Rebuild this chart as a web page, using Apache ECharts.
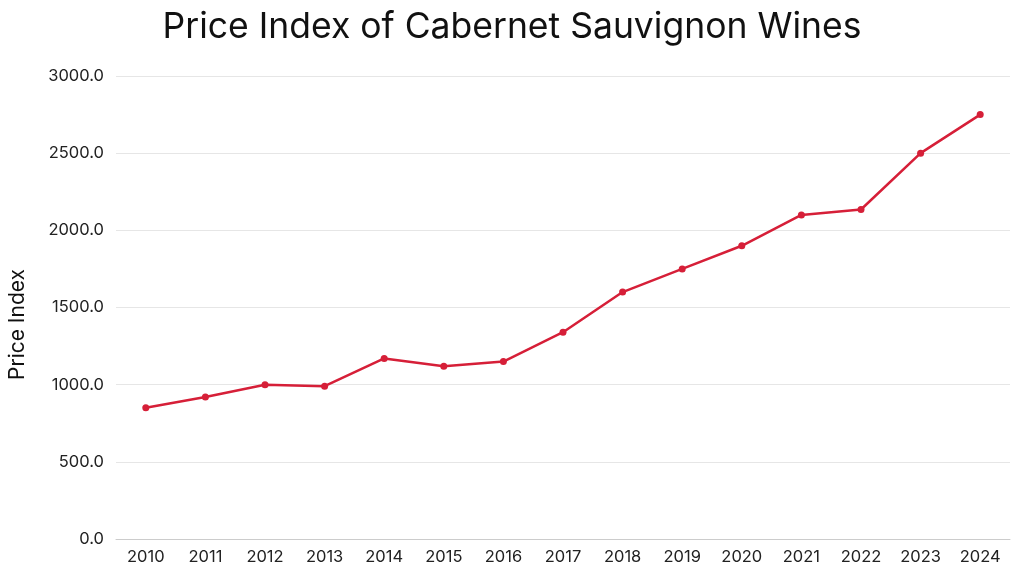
<!DOCTYPE html>
<html>
<head>
<meta charset="utf-8">
<script src="https://cdn.jsdelivr.net/npm/echarts@6/dist/echarts.min.js"></script>
<style>
  html, body { margin: 0; padding: 0; background: #fff; }
  #chart { width: 1024px; height: 576px; }
</style>
</head>
<body>
<div id="chart"></div>
<script>
const years = ["2010", "2011", "2012", "2013", "2014", "2015", "2016", "2017", "2018", "2019", "2020", "2021", "2022", "2023", "2024"];
const priceIndex = [850, 920, 1000, 990, 1170, 1120, 1150, 1340, 1600, 1750, 1900, 2100, 2135, 2500, 2750];

const font = "Inter, 'Noto Sans', sans-serif";
const chart = echarts.init(document.getElementById("chart"), null, { renderer: "canvas" });

chart.setOption({
	animation: false,
	title: {
		text: "Price Index of Cabernet Sauvignon Wines",
		left: "center",
		top: 4,
		textStyle: { fontFamily: font, fontSize: 35.5, fontWeight: "normal", color: "#111" }
	},
	grid: { left: 116, right: 14, top: 76, bottom: 37, outerBoundsMode: "none" },
	xAxis: {
		type: "category",
		data: years,
		axisTick: { show: false },
		axisLine: { lineStyle: { color: "#ccc" } },
		axisLabel: { fontFamily: font, fontSize: 16.5, color: "#222", margin: 10 }
	},
	yAxis: {
		type: "value",
		min: 0,
		max: 3000,
		interval: 500,
		name: "Price Index",
		nameLocation: "middle",
		nameGap: 88,
		nameTextStyle: { fontFamily: font, fontSize: 21, color: "#111", padding: [0, 34, 0, 0] },
		axisLabel: {
			fontFamily: font, fontSize: 16.5, color: "#222", margin: 12,
			formatter: v => v.toFixed(1)
		},
		splitLine: { lineStyle: { color: "#e6e6e6" } }
	},
	series: [{
		type: "line",
		data: priceIndex,
		symbol: "circle",
		symbolSize: 7,
		lineStyle: { color: "#d61f38", width: 2.5 },
		itemStyle: { color: "#d61f38" }
	}]
});
</script>
</body>
</html>
